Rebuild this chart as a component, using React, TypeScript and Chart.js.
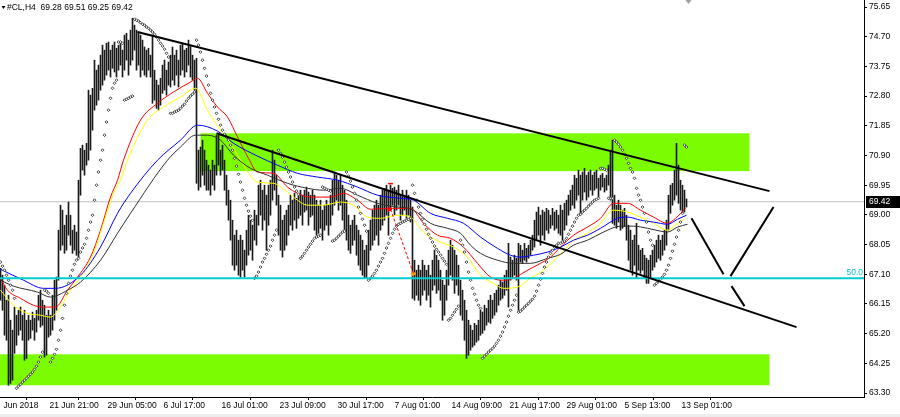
import React, { useEffect, useRef } from 'react';
import { Chart, registerables } from 'chart.js';
Chart.register(...registerables);

const symbol = '#CL,H4';
const lastOHLC = [69.28, 69.51, 69.25, 69.42];
const bidPrice = 69.42;
const fibLevel = 66.97;
const fibLabel = '50.0';

const highs = [
67.29,67.07,66.75,66.27,66.43,65.63,65.31,66.05,65.79,65.95,
66.05,65.79,65.95,65.63,65.79,65.63,65.89,65.69,65.95,66.43,
66.59,66.27,66.11,65.79,65.95,65.79,66.43,66.91,67.01,68.51,
69.31,69.15,68.67,68.99,69.41,68.99,68.51,68.67,68.45,70.11,
71.13,71.23,71.07,71.29,72.99,72.83,73.05,73.95,73.63,73.79,
74.11,74.43,74.27,74.49,74.53,74.27,74.43,74.53,74.33,74.43,
74.49,74.27,74.75,74.81,74.59,74.91,75.29,75.07,74.91,74.85,
74.75,74.59,74.37,74.27,74.33,74.11,74.75,73.63,73.31,73.15,
73.37,73.79,73.95,73.63,73.89,74.11,74.37,74.11,74.27,73.95,
74.43,74.49,74.27,74.33,74.59,74.43,74.11,73.95,74.01,71.07,
71.17,71.39,71.07,70.75,70.59,70.43,70.75,70.59,71.55,71.55,
71.07,71.23,70.75,70.27,69.79,69.47,68.83,68.35,68.51,68.19,
68.35,68.19,67.87,68.51,68.99,68.83,68.67,69.15,68.99,69.95,
70.11,69.79,69.95,69.63,69.95,70.11,71.07,70.75,70.27,69.63,
69.31,68.83,68.99,69.15,69.31,69.63,69.47,69.69,69.53,69.63,
69.79,69.63,69.79,69.89,69.73,69.63,69.79,69.63,69.47,69.31,
69.47,69.15,69.31,69.47,69.31,69.63,70.11,70.37,70.27,70.11,
70.27,69.95,69.79,69.47,68.99,68.67,68.83,68.99,68.67,68.51,
68.35,68.19,67.87,68.03,68.51,68.83,69.15,69.31,69.47,69.31,
69.63,69.79,69.85,69.95,69.79,69.95,69.85,69.89,69.79,69.95,
69.63,69.79,69.63,69.79,69.63,69.47,69.25,67.55,67.23,67.39,
67.23,67.55,67.39,67.23,67.39,67.07,67.55,67.87,67.71,67.55,
67.23,66.91,66.75,67.23,67.87,68.19,68.03,67.87,67.71,67.39,
66.91,66.59,66.27,65.95,65.63,65.47,65.31,65.53,65.47,65.63,
65.95,65.89,66.11,66.01,66.27,66.43,66.27,66.49,66.59,66.75,
66.91,66.85,67.07,67.23,68.09,67.65,67.55,67.71,67.61,68.09,
68.03,67.87,68.09,67.93,68.03,68.19,68.35,68.83,69.09,69.25,
68.99,69.15,69.09,69.21,69.15,68.99,69.21,69.09,69.15,68.99,
69.31,69.15,69.37,69.47,69.63,69.79,69.95,70.27,70.17,70.43,
70.27,70.37,70.49,70.27,70.37,70.43,70.27,70.37,70.43,70.17,
70.27,70.33,70.17,70.27,70.59,71.07,71.39,69.63,69.31,69.47,
69.31,69.15,69.21,68.99,68.67,68.51,68.19,68.35,68.73,68.03,
67.87,67.93,67.71,67.61,67.55,67.71,67.87,68.03,68.19,68.35,
68.19,68.35,68.51,68.83,69.63,69.95,70.01,70.43,71.29,70.59,
70.11,69.95,69.79,69.51
];

const lows = [
66.27,65.95,65.15,64.99,63.55,63.61,63.71,64.57,64.83,65.15,
65.31,64.99,64.35,64.41,64.99,65.05,65.31,64.99,65.25,65.63,
65.41,65.47,64.45,64.51,65.09,65.15,65.31,65.63,65.95,66.91,
67.87,68.03,67.77,67.87,68.35,68.03,67.77,67.87,67.71,67.65,
69.63,70.43,70.27,70.59,70.75,71.07,71.71,72.35,72.51,72.67,
72.99,73.15,73.31,73.47,73.63,73.41,73.69,73.57,73.41,73.63,
73.79,73.41,73.63,73.95,73.47,73.79,73.95,74.27,73.63,73.79,
73.41,73.63,73.47,73.41,73.63,73.41,72.57,72.67,72.41,72.35,
72.51,72.89,72.99,72.83,73.15,73.09,73.31,73.15,73.47,73.09,
73.47,73.63,73.41,73.57,73.79,73.41,73.31,72.99,70.01,69.79,
69.89,70.27,69.95,69.79,69.79,69.63,69.95,69.79,70.27,70.59,
70.27,70.43,69.79,69.31,68.83,68.19,67.39,67.23,67.39,67.07,
67.01,67.23,67.01,67.39,67.71,67.87,67.55,68.19,68.03,68.67,
68.99,68.51,68.83,67.87,68.67,68.99,69.47,69.79,69.31,68.35,
67.87,67.65,67.87,68.03,68.35,68.67,68.51,68.83,68.57,68.89,
68.99,68.67,69.09,69.15,68.67,68.93,68.99,68.51,68.35,68.41,
68.57,68.19,68.51,68.67,68.35,68.67,68.99,69.31,69.47,69.15,
69.31,68.83,68.51,68.19,67.87,67.77,68.03,68.19,67.71,67.39,
67.23,67.07,66.97,66.97,67.39,67.87,68.03,68.19,68.35,68.03,
68.51,68.67,68.83,68.99,68.35,69.15,69.31,68.99,69.15,69.31,
68.83,68.99,69.15,68.89,68.99,68.77,66.33,66.27,66.43,66.27,
66.11,66.43,66.59,66.27,66.43,66.05,66.59,66.75,66.49,66.59,
66.27,65.63,65.79,66.27,66.75,67.07,66.91,66.49,66.75,66.43,
65.79,65.63,64.99,64.41,64.51,64.67,64.77,64.83,64.93,64.99,
65.15,65.21,65.31,65.47,65.57,65.53,65.69,65.79,65.89,66.11,
66.27,66.33,66.43,66.59,66.05,66.91,66.97,67.07,66.91,65.95,
67.49,67.45,67.55,67.49,67.61,67.71,67.87,67.97,68.19,68.35,
68.03,68.35,68.19,68.51,68.41,68.57,68.67,68.51,68.57,68.41,
68.35,68.19,68.51,68.67,68.99,69.15,69.31,69.21,69.47,69.63,
69.05,69.47,69.73,69.47,69.57,69.79,69.63,69.79,69.85,69.57,
69.79,69.89,69.73,69.79,69.95,69.47,68.73,68.67,68.57,68.77,
68.51,68.57,68.63,68.19,67.55,67.23,67.07,67.39,66.97,67.23,
67.13,67.23,66.97,66.81,66.81,66.97,67.23,67.33,67.49,67.61,
67.55,67.71,67.87,68.03,68.51,69.05,69.31,69.47,69.63,69.37,
69.15,69.05,69.09,69.25
];

const sar = [
67.49,67.36,67.23,67.07,66.91,66.75,66.59,66.33,63.45,63.52,
63.58,63.65,63.71,63.77,63.84,63.90,63.97,64.06,64.16,64.29,
64.45,64.61,66.59,66.56,66.49,64.29,64.41,64.54,64.70,64.99,
65.31,65.69,66.11,66.49,66.81,67.04,67.23,67.42,67.55,67.61,
67.81,67.94,68.06,68.25,68.51,68.77,68.99,69.47,69.95,70.37,
70.75,71.07,71.55,71.97,72.35,72.73,73.05,73.21,73.31,74.53,
74.53,74.49,72.67,72.70,72.73,72.77,72.80,75.26,75.23,75.20,
75.15,75.10,75.07,75.01,74.97,74.91,74.85,74.78,74.69,74.59,
74.49,74.40,74.30,74.17,74.05,72.25,72.25,72.29,72.32,72.35,
72.41,72.48,72.54,72.64,72.73,72.80,72.86,72.93,74.59,74.43,
74.21,73.95,73.69,73.44,73.15,72.89,72.67,72.45,72.25,72.06,
71.87,71.71,71.58,71.49,71.39,71.23,71.07,70.81,70.56,70.30,
70.05,69.79,69.53,69.31,69.12,68.96,68.83,66.97,67.04,67.17,
67.33,67.49,67.61,67.74,67.87,68.00,68.19,68.35,68.51,71.07,
70.97,70.85,70.69,70.53,70.37,70.21,70.05,69.89,69.76,69.66,
67.61,67.68,67.77,67.87,67.97,68.06,68.16,68.25,68.29,68.32,
68.35,69.89,69.85,69.82,69.79,69.76,68.16,68.19,68.25,68.32,
68.38,68.45,68.48,70.37,70.24,70.08,69.89,69.69,69.47,69.25,
69.05,68.86,68.67,68.48,66.91,66.97,67.04,67.13,67.23,67.36,
67.49,67.61,67.77,67.94,68.09,68.25,68.41,68.54,68.64,68.70,
68.73,68.77,68.80,68.83,68.86,68.89,69.95,69.69,69.47,69.25,
69.05,68.86,68.70,68.54,68.38,68.25,68.13,68.00,67.90,67.81,
67.71,67.61,67.52,67.42,65.63,65.69,65.79,65.89,65.98,66.08,
68.19,68.03,67.81,67.49,67.17,66.91,66.65,66.46,66.27,66.11,
66.01,64.41,64.48,64.54,64.61,64.67,64.73,64.80,64.89,64.99,
65.12,65.25,65.41,65.57,65.76,65.95,66.11,66.27,66.43,65.89,
65.92,65.98,66.05,66.11,66.17,66.24,66.30,66.40,66.56,66.75,
66.94,67.13,67.33,67.49,67.65,67.77,67.87,67.97,68.03,68.09,
68.09,68.13,68.16,68.25,68.38,68.51,68.64,68.77,68.89,68.99,
69.02,69.09,69.15,69.21,69.28,69.34,69.41,69.47,69.50,69.53,
70.49,70.49,70.46,70.43,69.53,69.53,69.53,71.39,71.33,71.26,
71.17,71.07,70.94,70.81,70.65,70.49,70.37,70.17,69.85,69.63,
69.47,69.25,69.05,68.77,68.45,68.19,68.03,66.75,66.81,66.88,
66.94,67.01,67.10,67.23,67.39,67.61,67.84,68.06,68.29,68.51,
68.77,69.05,71.23,71.17
];

// moving averages sampled as [bar index, price]
const maRed = [[0,66.97],[3.5,66.59],[10,66.33],[16.5,66.11],[21.5,66.05],[27.5,66.05],[33.5,66.59],[38.5,67.01],[45,67.65],[50,68.51],[55,69.57],[58.5,70.11],[61.5,70.75],[70,72.03],[78.5,72.57],[86.5,72.93],[95,73.25],[98.5,73.37],[103.5,72.89],[108.5,72.45],[113.5,72.13],[118.5,71.49],[124,70.81],[128.5,70.37],[136.5,70.33],[143.5,69.89],[148.5,69.69],[155,69.57],[165,69.57],[171.5,69.69],[178.5,69.47],[185,69.18],[195,69.21],[205,69.21],[211.5,68.73],[218.5,68.35],[225,68.25],[231.5,67.97],[238.5,67.45],[245,67.01],[251.5,66.91],[256.5,66.97],[263.5,67.23],[270,67.45],[275,67.65],[280,67.97],[286.5,68.35],[293.5,68.61],[300,68.89],[306.5,69.37],[313.5,69.37],[320,69.15],[326.5,68.93],[333.5,68.73],[337.5,68.89],[342.5,69.21]];
const maYellow = [[0,66.59],[6.5,66.11],[13.5,65.85],[20,65.79],[25,65.73],[30,66.05],[35,66.59],[40,67.01],[46.5,67.77],[51.5,68.73],[56.5,69.69],[60,70.11],[63.5,70.75],[73.5,72.03],[81.5,72.45],[90,72.77],[97.5,73.05],[103.5,72.35],[110,71.71],[115,71.29],[120,70.75],[128.5,70.05],[136.5,70.01],[143.5,69.73],[148.5,69.47],[153.5,69.31],[161.5,69.31],[170,69.41],[176.5,69.31],[183.5,68.93],[190,68.89],[198.5,68.99],[205,68.93],[211.5,68.45],[220,68.13],[226.5,67.97],[233.5,67.65],[240,67.07],[246.5,66.81],[251.5,66.65],[258.5,66.69],[265,66.97],[271.5,67.23],[280,67.74],[286.5,68.19],[293.5,68.41],[300,68.73],[306.5,69.15],[313.5,69.09],[320,68.93],[326.5,68.73],[333.5,68.51],[337.5,68.67],[342.5,68.89]];
const maBlue = [[0,67.26],[11.5,66.91],[21.5,66.65],[27.5,66.65],[40,67.07],[50,67.97],[58.5,69.05],[65,69.69],[78.5,70.75],[90,71.39],[98.5,71.87],[108.5,71.68],[116.5,71.29],[128.5,70.88],[138.5,70.59],[148.5,70.33],[158.5,70.21],[168.5,70.11],[178.5,69.89],[188.5,69.63],[200,69.53],[206.5,69.47],[215,69.05],[223.5,68.89],[231.5,68.73],[240,68.29],[248.5,67.93],[255,67.71],[260,67.65],[266.5,67.71],[273.5,67.81],[280,67.97],[286.5,68.19],[293.5,68.35],[300,68.57],[308.5,68.89],[313.5,68.93],[320,68.83],[326.5,68.77],[333.5,68.70],[338.5,68.86],[343,68.99]];
const maBlack = [[0,66.91],[6.5,66.72],[18.5,66.53],[25,66.37],[33.5,66.59],[40,66.85],[50,67.55],[58.5,68.41],[65,69.05],[83.5,70.75],[90,71.17],[97.5,71.55],[103.5,71.55],[110,71.39],[116.5,70.91],[125,70.49],[133.5,70.27],[143.5,70.01],[153.5,69.85],[161.5,69.79],[170,69.85],[178.5,69.63],[188.5,69.37],[195,69.28],[206.5,69.15],[215,68.73],[223.5,68.57],[230,68.41],[235,68.03],[240,67.77],[248.5,67.55],[256.5,67.45],[265,67.45],[273.5,67.61],[280,67.74],[286.5,68.03],[293.5,68.19],[301.5,68.45],[310,68.64],[316.5,68.64],[323.5,68.57],[330,68.48],[333.5,68.45],[338.5,68.61],[343.5,68.70]];

// trend lines: [fromIndex, fromPrice, toIndex, toPrice]
const trendLines = [
  [68.5, 74.85, 384.5, 69.76],
  [108, 71.61, 398, 65.41],
  [345.5, 68.89, 361.5, 67.10],
  [365, 67.04, 386.5, 69.25],
  [365.5, 66.72, 372, 66.08],
];
// zones: [fromIndex, toIndex, topPrice, bottomPrice]
const zones = [
  [100, 374.5, 71.61, 70.40],
  [-1, 384.5, 64.54, 63.55],
];
// closed trade: [openIndex, openPrice, closeIndex, closePrice]
const trade = [195, 69.18, 206.5, 67.12];
const tradeMarkPrice = 70.0;

const xTickPos = [1.5, 24.5, 53.5, 81.5, 110.5, 139.5, 168.5, 197, 225.5, 254.5, 283, 312, 340.5];
const xTickLabels = ['Jun 2018', '21 Jun 21:00', '29 Jun 05:00', '6 Jul 17:00', '16 Jul 01:00', '23 Jul 09:00', '30 Jul 17:00', '7 Aug 01:00', '14 Aug 09:00', '21 Aug 17:00', '29 Aug 01:00', '5 Sep 13:00', '13 Sep 01:00'];
const yTicks = [75.65, 74.70, 73.75, 72.80, 71.85, 70.90, 69.95, 69.00, 68.05, 67.10, 66.15, 65.20, 64.25, 63.30];

const FONT = '"Liberation Sans", Arial, sans-serif';

export default function App() {
  const ref = useRef<HTMLCanvasElement | null>(null);

  useEffect(() => {
    document.body.style.margin = '0';
    const canvas = ref.current;
    if (!canvas) return;

    const bgPlugin = {
      id: 'bg',
      beforeDraw(chart: any) {
        const { ctx, width, height } = chart;
        ctx.save();
        ctx.fillStyle = '#ffffff';
        ctx.fillRect(0, 0, width, height);
        ctx.fillStyle = '#ececec';
        ctx.fillRect(0, height - 3, width, 3);
        ctx.restore();
      },
    };

    const zonePlugin = {
      id: 'zones',
      beforeDatasetsDraw(chart: any) {
        const { ctx, chartArea, scales } = chart;
        const xs = scales.x, ys = scales.y;
        ctx.save();
        ctx.beginPath();
        ctx.rect(chartArea.left, chartArea.top, chartArea.right - chartArea.left, chartArea.bottom - chartArea.top);
        ctx.clip();
        ctx.fillStyle = '#7CFC00';
        for (const z of zones) {
          const x0 = xs.getPixelForValue(z[0]);
          const x1 = xs.getPixelForValue(z[1]);
          const y0 = ys.getPixelForValue(z[2]);
          const y1 = ys.getPixelForValue(z[3]);
          ctx.fillRect(x0, y0, x1 - x0, y1 - y0);
        }
        ctx.restore();
      },
    };

    const overlayPlugin = {
      id: 'overlay',
      afterDraw(chart: any) {
        const { ctx, chartArea, scales } = chart;
        const ys = scales.y, xs = scales.x;
        ctx.save();
        ctx.fillStyle = '#000';
        ctx.beginPath();
        ctx.moveTo(1.5, 6);
        ctx.lineTo(5.5, 6);
        ctx.lineTo(3.5, 9);
        ctx.closePath();
        ctx.fill();
        ctx.font = '8.5px ' + FONT;
        ctx.textBaseline = 'middle';
        ctx.textAlign = 'left';
        ctx.fillText(symbol + '  ' + lastOHLC.map((v) => v.toFixed(2)).join(' '), 7, 8);
        const fy = ys.getPixelForValue(fibLevel);
        ctx.fillStyle = '#00C8D6';
        ctx.textAlign = 'right';
        ctx.textBaseline = 'bottom';
        ctx.fillText(fibLabel, chartArea.right - 1, fy - 1);
        const py = Math.round(ys.getPixelForValue(bidPrice));
        ctx.fillStyle = '#000';
        ctx.fillRect(chartArea.right + 2, py - 6, 36, 12);
        ctx.fillStyle = '#fff';
        ctx.textAlign = 'left';
        ctx.textBaseline = 'middle';
        ctx.fillText(bidPrice.toFixed(2), chartArea.right + 5, py);
        const sx = xs.getPixelForValue(344);
        ctx.fillStyle = '#a0a0a0';
        ctx.beginPath();
        ctx.moveTo(sx - 3, 0);
        ctx.lineTo(sx + 3, 0);
        ctx.lineTo(sx, 4);
        ctx.closePath();
        ctx.fill();
        ctx.restore();
      },
    };

    const barData = highs.map((h, i) => ({ x: i, y: [lows[i], h] }));
    const sarData = sar.map((v, i) => ({ x: i, y: v }));
    const toPts = (arr: number[][]) => arr.map((p) => ({ x: p[0], y: p[1] }));

    const maSet = (data: number[][], color: string) => ({
      type: 'line',
      data: toPts(data),
      borderColor: color,
      borderWidth: 1,
      pointRadius: 0,
      pointHoverRadius: 0,
      cubicInterpolationMode: 'monotone',
      order: 5,
    });

    const lineSet = (pts: { x: number; y: number }[], color: string, width: number, order: number, dash?: number[]) => ({
      type: 'line',
      data: pts,
      borderColor: color,
      borderWidth: width,
      pointRadius: 0,
      pointHoverRadius: 0,
      borderDash: dash || [],
      tension: 0,
      order,
    });

    const datasets: any[] = [
      {
        type: 'bar',
        data: barData,
        backgroundColor: '#1a1a1a',
        borderWidth: 0,
        barThickness: 1,
        order: 10,
      },
      lineSet([{ x: -0.25, y: bidPrice }, { x: 431.75, y: bidPrice }], '#c0c0c0', 1, 11),
      maSet(maBlack, '#303030'),
      maSet(maBlue, '#0000ff'),
      maSet(maYellow, '#ffff00'),
      maSet(maRed, '#ff0000'),
      {
        type: 'line',
        data: sarData,
        showLine: false,
        pointStyle: 'rectRot',
        pointRadius: 1.4,
        pointHoverRadius: 1.4,
        pointBorderWidth: 1,
        pointBorderColor: '#404040',
        pointBackgroundColor: '#ffffff',
        order: 4,
      },
      lineSet([{ x: -0.25, y: fibLevel }, { x: 431.75, y: fibLevel }], '#00CED1', 2, 3),
      lineSet([{ x: trade[0], y: trade[1] }, { x: trade[2], y: trade[3] }], '#ff0000', 1, 2, [3, 2]),
      lineSet([{ x: trade[0] - 1.2, y: tradeMarkPrice }, { x: trade[0] + 1.2, y: tradeMarkPrice }], '#ff0000', 1.5, 2),
      {
        type: 'line',
        data: [{ x: trade[0] - 0.5, y: trade[1] }],
        showLine: false,
        pointStyle: 'triangle',
        rotation: 90,
        pointRadius: 2.5,
        pointHoverRadius: 2.5,
        pointBackgroundColor: '#ff0000',
        pointBorderColor: '#ff0000',
        order: 2,
      },
      {
        type: 'line',
        data: [{ x: trade[2], y: trade[3] }],
        showLine: false,
        pointStyle: 'triangle',
        rotation: 90,
        pointRadius: 2.5,
        pointHoverRadius: 2.5,
        pointBackgroundColor: '#ffa500',
        pointBorderColor: '#ffa500',
        order: 2,
      },
      ...trendLines.map((t) => lineSet([{ x: t[0], y: t[1] }, { x: t[2], y: t[3] }], '#000', 2, 1)),
    ];

    const zeroPad = (s: any) => {
      s.paddingLeft = 0;
      s.paddingRight = 0;
      s.paddingTop = 0;
      s.paddingBottom = 0;
    };

    const chart = new Chart(canvas, {
      type: 'bar',
      data: { datasets },
      options: {
        animation: false,
        responsive: false,
        devicePixelRatio: 1,
        events: [],
        layout: { padding: 0, autoPadding: false },
        plugins: { legend: { display: false }, tooltip: { enabled: false }, title: { display: false } },
        scales: {
          x: {
            type: 'linear',
            min: -0.25,
            max: 431.75,
            offset: false,
            afterFit: (s: any) => { s.height = 20; zeroPad(s); },
            afterBuildTicks: (s: any) => { s.ticks = xTickPos.map((v) => ({ value: v })); },
            ticks: {
              align: 'start',
              maxRotation: 0,
              minRotation: 0,
              autoSkip: false,
              padding: 1,
              color: '#000',
              font: { family: FONT, size: 8.5 },
              callback: (_v: any, i: number) => xTickLabels[i],
            },
            grid: { drawOnChartArea: false, drawTicks: true, tickLength: 3, color: '#000' },
            border: { display: true, color: '#000', width: 1 },
          },
          y: {
            type: 'linear',
            position: 'right',
            min: 63.174,
            max: 75.874,
            afterFit: (s: any) => { s.width = 36; zeroPad(s); },
            afterBuildTicks: (s: any) => { s.ticks = yTicks.map((v) => ({ value: v })); },
            ticks: {
              autoSkip: false,
              padding: 2,
              color: '#000',
              font: { family: FONT, size: 8.5 },
              callback: (v: any) => Number(v).toFixed(2),
            },
            grid: { drawOnChartArea: false, drawTicks: true, tickLength: 3, color: '#000' },
            border: { display: true, color: '#000', width: 1 },
          },
        },
      } as any,
      plugins: [bgPlugin, zonePlugin, overlayPlugin],
    } as any);

    return () => chart.destroy();
  }, []);

  return (
    <div style={{ width: 900, height: 417 }}>
      <canvas ref={ref} width={900} height={417} style={{ display: 'block' }} />
    </div>
  );
}
